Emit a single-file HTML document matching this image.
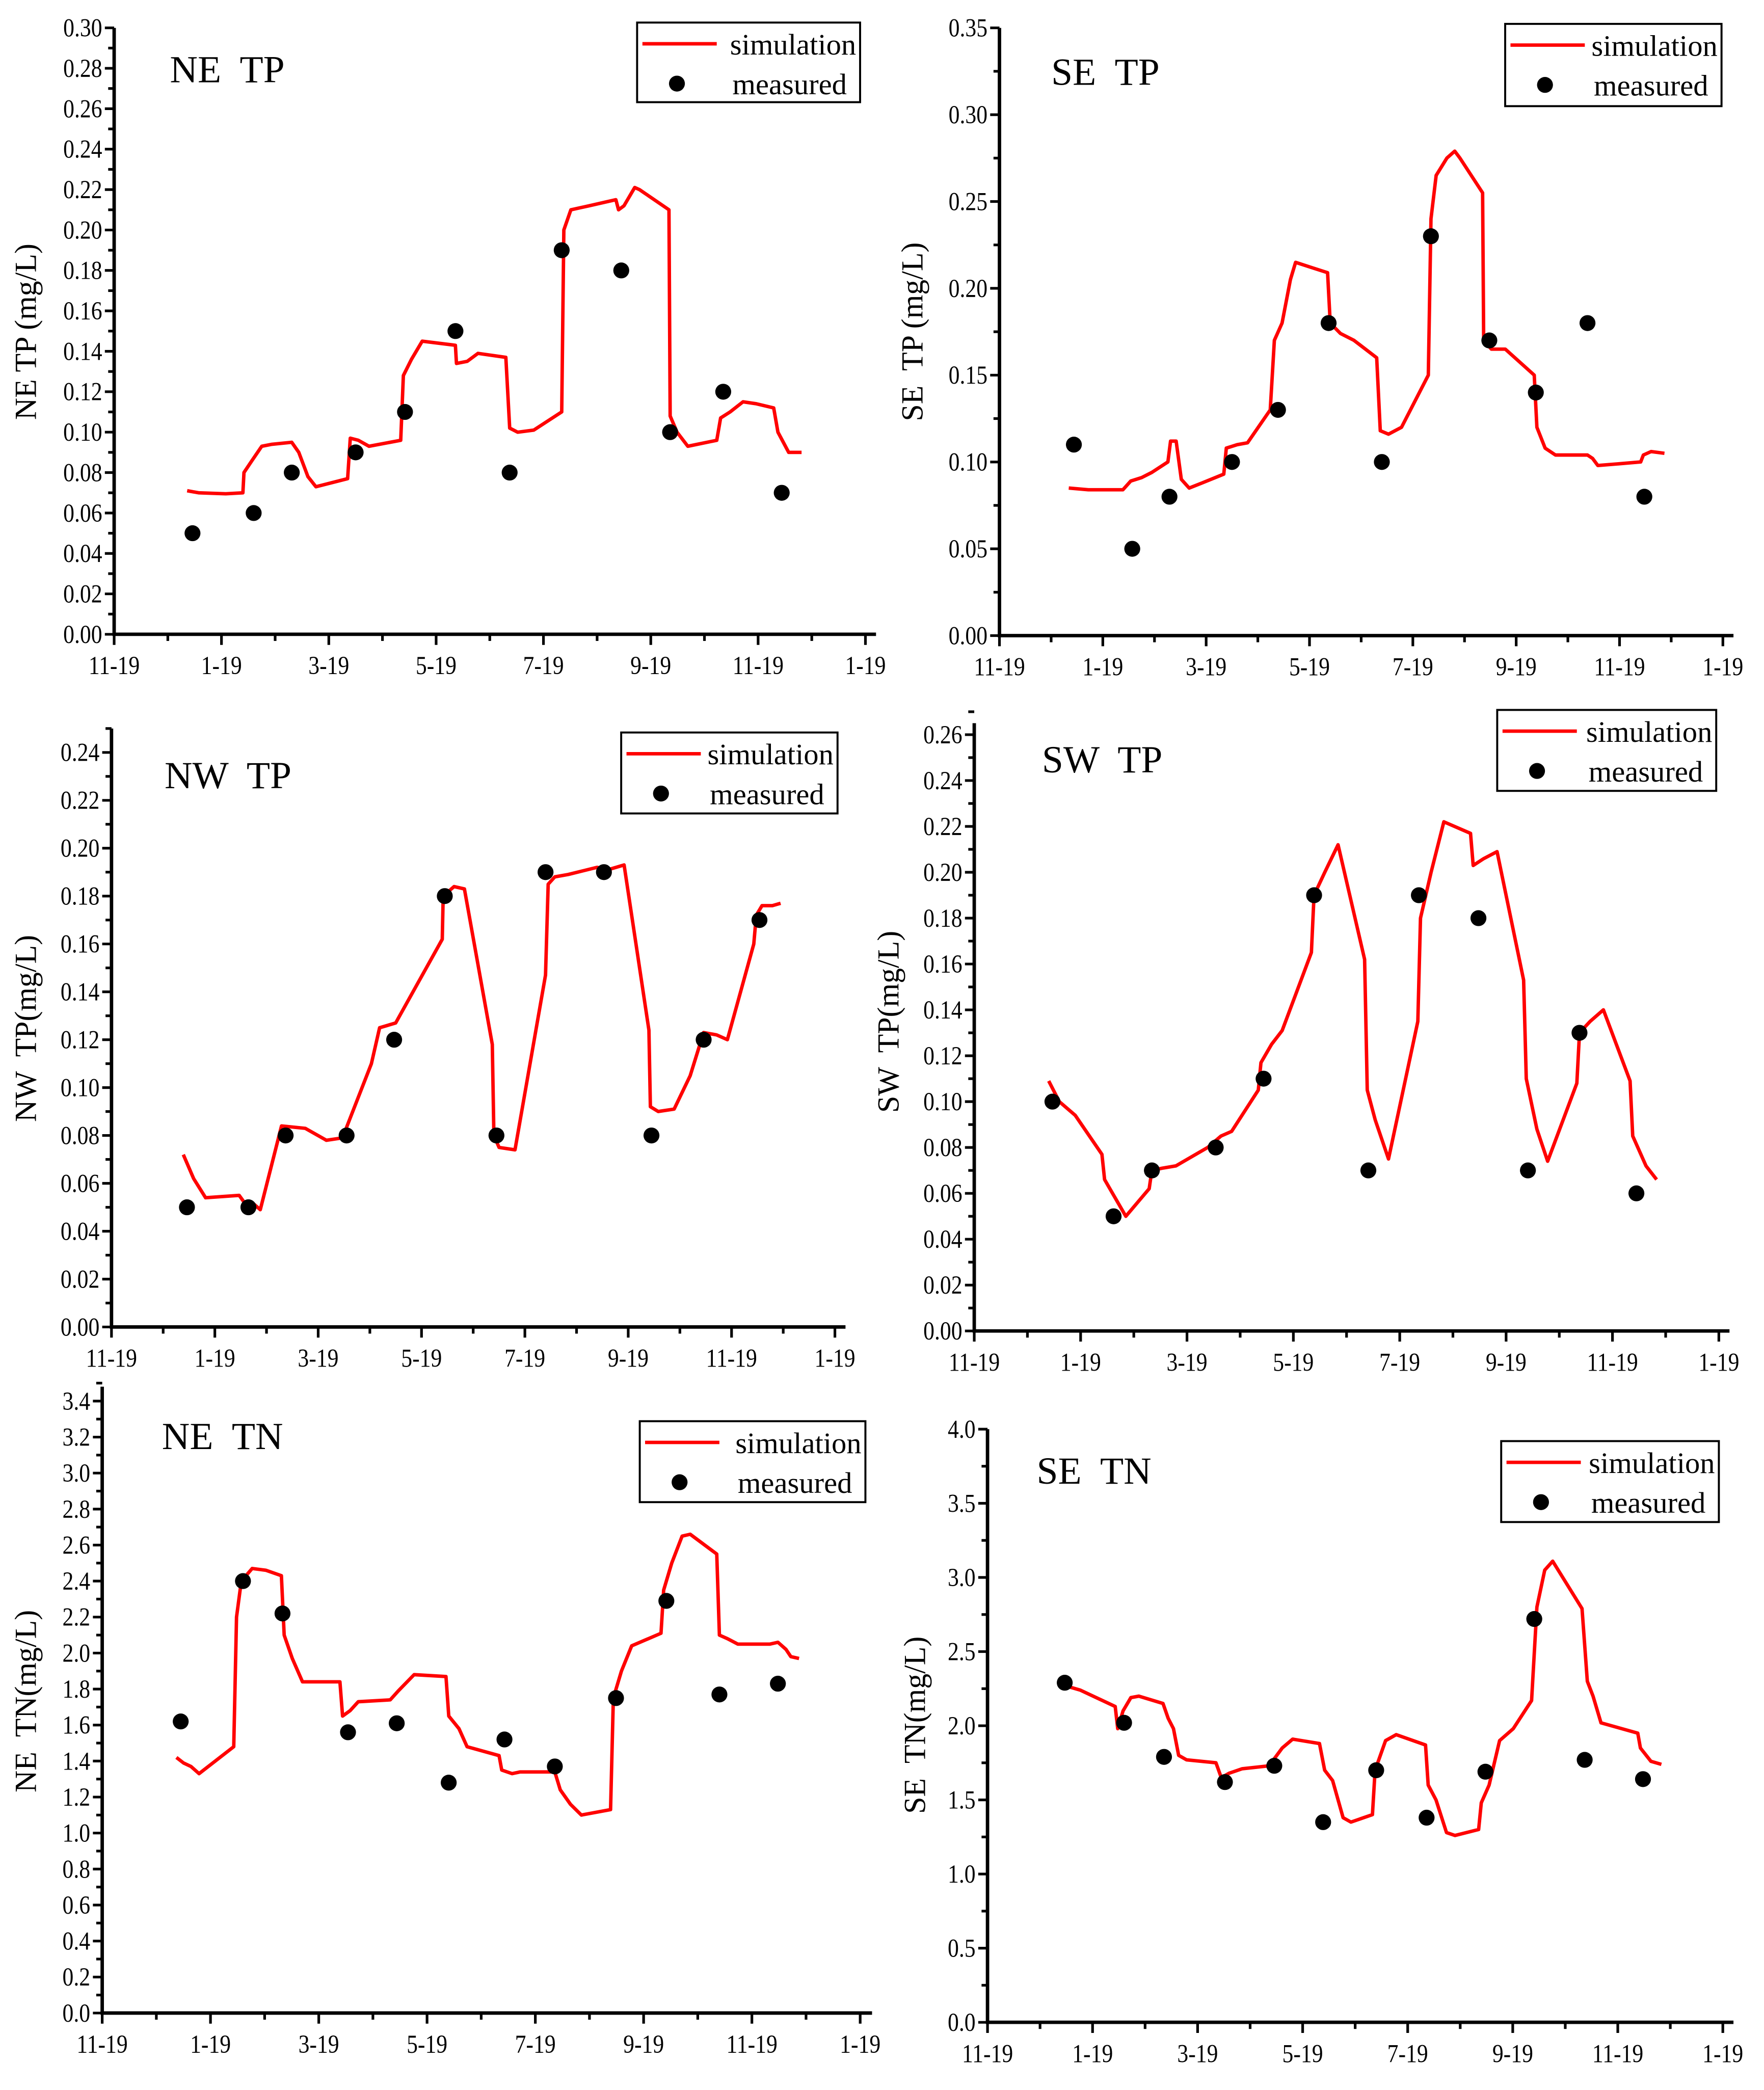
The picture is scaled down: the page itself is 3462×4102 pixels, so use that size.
<!DOCTYPE html>
<html><head><meta charset="utf-8"><style>
html,body{margin:0;padding:0;background:#fff}
svg{display:block}
text{font-family:"Liberation Serif",serif;fill:#000;white-space:pre}
</style></head><body>
<svg id="fig" width="3462" height="4102" viewBox="0 0 1329 1575" preserveAspectRatio="none" xmlns="http://www.w3.org/2000/svg" xml:space="preserve"></svg>
<script>
// x values are months since 1 Nov 2018 (0 = "11-19", 14 = next "1-19")
const xTickLabels = ["11-19","1-19","3-19","5-19","7-19","9-19","11-19","1-19"];

const neTpMeasX = [1.46,2.6,3.31,4.5,5.42,6.36,7.37,8.34,9.45,10.36,11.35,12.44];
const neTpMeasY = [0.05,0.06,0.08,0.09,0.11,0.15,0.08,0.19,0.18,0.10,0.12,0.07];
const neTpSimX = [1.36,1.58,2.08,2.40,2.42,2.57,2.75,2.94,3.31,3.44,3.61,3.76,4.35,4.40,4.55,4.75,5.34,5.39,5.54,5.74,6.36,6.38,6.58,6.78,7.30,7.37,7.52,7.82,8.34,8.38,8.51,8.85,9.35,9.40,9.50,9.70,9.79,10.34,10.36,10.49,10.69,11.23,11.30,11.48,11.72,11.97,12.29,12.37,12.57,12.81];
const neTpSimY = [0.071,0.070,0.0695,0.070,0.080,0.086,0.093,0.094,0.095,0.090,0.078,0.073,0.077,0.097,0.096,0.093,0.096,0.128,0.136,0.145,0.143,0.134,0.135,0.139,0.137,0.102,0.100,0.101,0.110,0.200,0.210,0.212,0.215,0.210,0.212,0.221,0.220,0.210,0.108,0.100,0.093,0.096,0.107,0.110,0.115,0.114,0.112,0.100,0.090,0.090];

const seTpMeasX = [1.44,2.57,3.29,4.50,5.39,6.37,7.40,8.35,9.48,10.38,11.38,12.48];
const seTpMeasY = [0.11,0.05,0.08,0.10,0.13,0.18,0.10,0.23,0.17,0.14,0.18,0.08];
const seTpSimX = [1.34,1.72,2.39,2.54,2.75,2.95,3.26,3.31,3.42,3.52,3.67,3.93,4.34,4.39,4.60,4.80,5.24,5.32,5.47,5.63,5.73,6.04,6.35,6.40,6.60,6.86,7.30,7.37,7.53,7.78,8.30,8.35,8.45,8.66,8.81,8.91,9.35,9.37,9.52,9.79,10.35,10.40,10.56,10.76,11.38,11.48,11.58,11.99,12.41,12.46,12.61,12.87];
const seTpSimY = [0.085,0.084,0.084,0.089,0.091,0.094,0.100,0.112,0.112,0.090,0.085,0.088,0.093,0.108,0.110,0.111,0.130,0.170,0.180,0.205,0.215,0.212,0.209,0.180,0.174,0.170,0.160,0.118,0.116,0.120,0.150,0.240,0.265,0.275,0.279,0.275,0.255,0.170,0.165,0.165,0.150,0.120,0.108,0.104,0.104,0.102,0.098,0.099,0.100,0.104,0.106,0.105];

const nwTpMeasX = [1.46,2.65,3.37,4.55,5.47,6.45,7.45,8.40,9.53,10.45,11.46,12.54];
const nwTpMeasY = [0.05,0.05,0.08,0.08,0.12,0.18,0.08,0.19,0.19,0.08,0.12,0.17];
const nwTpSimX = [1.39,1.59,1.82,2.47,2.57,2.72,2.88,3.29,3.75,4.16,4.47,5.03,5.19,5.50,6.40,6.42,6.63,6.83,7.37,7.40,7.50,7.81,8.40,8.45,8.58,8.84,9.40,9.61,9.92,10.40,10.43,10.58,10.89,11.20,11.46,11.71,11.92,12.43,12.48,12.59,12.79,12.95];
const nwTpSimY = [0.072,0.062,0.054,0.055,0.052,0.052,0.049,0.084,0.083,0.078,0.079,0.110,0.125,0.127,0.162,0.180,0.184,0.183,0.118,0.080,0.075,0.074,0.147,0.185,0.188,0.189,0.192,0.191,0.193,0.124,0.092,0.090,0.091,0.105,0.123,0.122,0.120,0.160,0.172,0.176,0.176,0.177];

const swTpMeasX = [1.47,2.62,3.34,4.54,5.44,6.39,7.41,8.36,9.48,10.41,11.38,12.45];
const swTpMeasY = [0.10,0.05,0.07,0.08,0.11,0.19,0.07,0.19,0.18,0.07,0.13,0.06];
const swTpSimX = [1.40,1.60,1.90,2.40,2.45,2.60,2.85,3.29,3.34,3.54,3.79,4.39,4.64,4.84,5.34,5.39,5.59,5.79,6.34,6.39,6.59,6.84,7.34,7.39,7.54,7.79,8.34,8.39,8.59,8.83,9.33,9.38,9.58,9.83,10.33,10.38,10.58,10.78,11.33,11.38,11.58,11.83,12.33,12.38,12.63,12.83];
const swTpSimY = [0.109,0.100,0.094,0.077,0.066,0.060,0.050,0.062,0.070,0.071,0.072,0.080,0.085,0.087,0.105,0.117,0.125,0.131,0.165,0.190,0.200,0.212,0.162,0.105,0.092,0.075,0.135,0.180,0.200,0.222,0.217,0.203,0.206,0.209,0.153,0.110,0.088,0.074,0.108,0.130,0.135,0.140,0.109,0.085,0.072,0.066];

const neTnMeasX = [1.45,2.60,3.33,4.54,5.44,6.40,7.43,8.36,9.49,10.42,11.40,12.48];
const neTnMeasY = [1.62,2.40,2.22,1.56,1.61,1.28,1.52,1.37,1.75,2.29,1.77,1.83];
const neTnSimX = [1.37,1.50,1.64,1.79,2.43,2.48,2.57,2.77,3.02,3.31,3.36,3.51,3.70,4.39,4.44,4.58,4.73,5.32,5.47,5.76,6.35,6.40,6.59,6.74,7.33,7.38,7.57,7.72,8.36,8.46,8.65,8.85,9.39,9.44,9.59,9.78,10.32,10.37,10.52,10.71,10.86,11.35,11.40,11.55,11.74,12.33,12.48,12.63,12.72,12.87];
const neTnSimY = [1.42,1.39,1.37,1.33,1.48,2.20,2.40,2.47,2.46,2.43,2.10,1.97,1.84,1.84,1.65,1.68,1.73,1.74,1.79,1.88,1.87,1.65,1.58,1.48,1.43,1.35,1.33,1.34,1.34,1.24,1.16,1.10,1.13,1.75,1.90,2.04,2.11,2.35,2.50,2.65,2.66,2.55,2.10,2.08,2.05,2.05,2.06,2.02,1.98,1.97];

const seTnMeasX = [1.47,2.60,3.36,4.52,5.46,6.39,7.40,8.36,9.48,10.41,11.37,12.48];
const seTnMeasY = [2.29,2.02,1.79,1.62,1.73,1.35,1.70,1.38,1.69,2.72,1.77,1.64];
const seTnSimX = [1.42,1.57,1.77,2.43,2.48,2.58,2.73,2.88,3.34,3.44,3.54,3.64,3.79,4.35,4.45,4.60,4.85,5.36,5.61,5.81,6.32,6.42,6.57,6.77,6.92,7.33,7.38,7.58,7.78,8.34,8.39,8.54,8.74,8.90,9.35,9.40,9.55,9.75,10.01,10.36,10.46,10.61,10.76,11.32,11.42,11.53,11.68,12.38,12.43,12.63,12.83];
const seTnSimY = [2.33,2.26,2.24,2.13,1.98,2.10,2.19,2.20,2.15,2.05,1.98,1.80,1.77,1.75,1.65,1.68,1.71,1.73,1.85,1.91,1.88,1.70,1.63,1.38,1.35,1.40,1.70,1.90,1.94,1.87,1.60,1.50,1.28,1.26,1.30,1.48,1.60,1.90,1.98,2.17,2.80,3.05,3.11,2.79,2.30,2.20,2.02,1.95,1.85,1.76,1.74];

const panels = [
 {id:"ne-tp",title:"NE  TP",ylab:"NE TP (mg/L)",x0:86,pxpm:40.43,xr:660,yb:478,yt:21,ymax:0.30,major:0.02,minor:0.01,dec:2,tx:128,ty:62,lg:[480,17,168,60],ylx:20,yly:250,mx:neTpMeasX,my:neTpMeasY,sx:neTpSimX,sy:neTpSimY},
 {id:"se-tp",title:"SE  TP",ylab:"SE  TP (mg/L)",x0:753,pxpm:38.93,xr:1306,yb:479,yt:21,ymax:0.35,major:0.05,minor:0.025,dec:2,tx:792,ty:64,lg:[1134,18,163,62],ylx:688,yly:250,mx:seTpMeasX,my:seTpMeasY,sx:seTpSimX,sy:seTpSimY},
 {id:"nw-tp",title:"NW  TP",ylab:"NW  TP(mg/L)",x0:84,pxpm:38.93,xr:637,yb:1000,yt:549,ymax:0.24,ytop:0.25,major:0.02,minor:0.01,dec:2,tx:124,ty:594,lg:[468,552,163,61],ylx:20,yly:775,mx:nwTpMeasX,my:nwTpMeasY,sx:nwTpSimX,sy:nwTpSimY},
 {id:"sw-tp",title:"SW  TP",ylab:"SW  TP(mg/L)",x0:734,pxpm:40.07,xr:1303,yb:1003,yt:545,ymax:0.26,ytop:0.265,major:0.02,minor:0.01,dec:2,tx:785,ty:582,lg:[1128,535,165,61],ylx:670,yly:770,mx:swTpMeasX,my:swTpMeasY,sx:swTpSimX,sy:swTpSimY},
 {id:"ne-tn",title:"NE  TN",ylab:"NE  TN(mg/L)",x0:77,pxpm:40.79,xr:657,yb:1517,yt:1045,ymax:3.4,ytop:3.48,major:0.2,minor:0.1,dec:1,tx:122,ty:1092,lg:[482,1071,170,61],ylx:20,yly:1282,mx:neTnMeasX,my:neTnMeasY,sx:neTnSimX,sy:neTnSimY},
 {id:"se-tn",title:"SE  TN",ylab:"SE  TN(mg/L)",x0:744,pxpm:39.57,xr:1306,yb:1524,yt:1077,ymax:4.0,major:0.5,minor:0.25,dec:1,tx:781,ty:1118,lg:[1131,1086,164,61],ylx:690,yly:1300,mx:seTnMeasX,my:seTnMeasY,sx:seTnSimX,sy:seTnSimY}
];

const NS="http://www.w3.org/2000/svg";
const svg=document.getElementById('fig');
function mk(tag,attrs,parent){const e=document.createElementNS(NS,tag);for(const k in attrs)e.setAttribute(k,attrs[k]);(parent||svg).appendChild(e);return e;}

panels.forEach(p=>{
  const g=mk('g',{});
  
  
  const ytopV=p.ytop||p.ymax;
  const sy=(p.yb-p.yt)/ytopV;
  const X=m=>p.x0+m*p.pxpm;
  const Y=v=>p.yb-v*sy;
  const ax=mk('path',{d:`M${p.x0},${p.yt} L${p.x0},${p.yb} L${p.xr},${p.yb}`,fill:'none',stroke:'#000','stroke-width':2.6},g);
  
  
  const nMinor=Math.round(ytopV/p.minor+1e-6);
  const ratio=Math.round(p.major/p.minor);
  for(let i=0;i<=nMinor;i++){
    const v=i*p.minor;const y=Y(v);const isMaj=i%ratio===0;
    mk('line',{x1:p.x0,x2:p.x0-(isMaj?7:4.5),y1:y,y2:y,stroke:'#000','stroke-width':2},g);
    if(isMaj && v<=p.ymax+1e-9){
      const t=mk('text',{x:p.x0-9,y:y+6.5,'text-anchor':'end','font-size':19.5,transform:`translate(${p.x0-9},0) scale(0.86,1) translate(${-(p.x0-9)},0)`},g);
      t.textContent=v.toFixed(p.dec);
      
      
    }
  }
  for(let m=0;m<=14;m++){
    const x=X(m);const isMaj=m%2===0;
    mk('line',{x1:x,x2:x,y1:p.yb,y2:p.yb+(isMaj?8:5),stroke:'#000','stroke-width':2},g);
    if(isMaj){
      const t=mk('text',{x:x,y:p.yb+30,'text-anchor':'middle','font-size':19.5,transform:`translate(${x},0) scale(0.86,1) translate(${-x},0)`},g);
      t.textContent=xTickLabels[m/2];
      
      
    }
  }
  const yt=mk('text',{x:0,y:0,'text-anchor':'middle','font-size':23,transform:`translate(${p.ylx+7},${p.yly}) rotate(-90)`},g);
  yt.textContent=p.ylab;
  
  
  const tt=mk('text',{x:p.tx,y:p.ty,'font-size':29},g);
  tt.textContent=p.title;
  
  
  const d=p.sx.map((m,i)=>(i?'L':'M')+X(m).toFixed(1)+','+Y(p.sy[i]).toFixed(1)).join(' ');
  const ln=mk('path',{d:d,fill:'none',stroke:'#ff0000','stroke-width':2.6,'stroke-linejoin':'round'},g);
  
  
  p.mx.forEach((m,i)=>{
    const c=mk('circle',{cx:X(m),cy:Y(p.my[i]),r:6,fill:'#000'},g);
    
    
  });
  const [lx,ly,lw,lh]=p.lg;
  const lgG=mk('g',{},g);
  
  
  mk('rect',{x:lx,y:ly,width:lw,height:lh,fill:'#fff',stroke:'#000','stroke-width':1.5},lgG);
  mk('line',{x1:lx+4,x2:lx+60,y1:ly+16,y2:ly+16,stroke:'#ff0000','stroke-width':2.6},lgG);
  const s1=mk('text',{x:lx+lw-3,y:ly+24,'text-anchor':'end','font-size':22.5},lgG);
  s1.textContent='simulation';
  
  
  mk('circle',{cx:lx+30,cy:ly+46,r:6,fill:'#000'},lgG);
  const s2=mk('text',{x:lx+lw-10,y:ly+54,'text-anchor':'end','font-size':22.5},lgG);
  s2.textContent='measured';
  
  
});
</script>
</body></html>
